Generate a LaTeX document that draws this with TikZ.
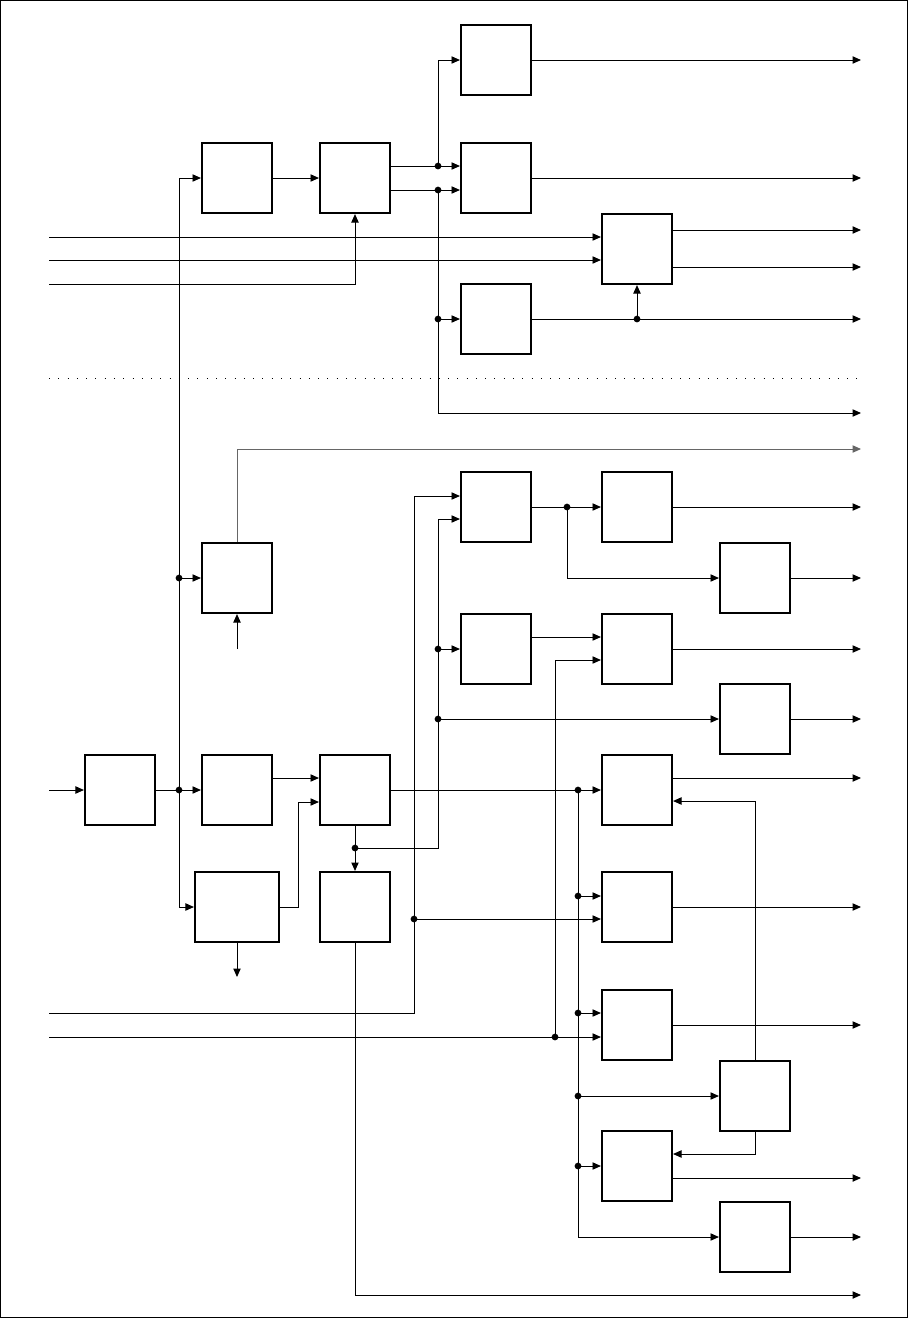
\documentclass[tikz,border=0pt]{standalone}
\usetikzlibrary{arrows.meta}

\begin{document}
\begin{tikzpicture}[x=0.025cm, y=-0.025cm, line width=0.7pt,
    blk/.style={rectangle, draw, line width=1.5pt, minimum width=1.75cm,
                minimum height=1.75cm, inner sep=0pt},
    wideblk/.style={blk, minimum width=2.1cm},
    jn/.style={circle, fill, inner sep=0pt, minimum size=4.8pt},
    >={Triangle[length=6pt,width=5.2pt]}
  ]
    \useasboundingbox (0,0) rectangle (908,1318);
    \draw[line width=0.8pt] (0.5,0.5) rectangle (907.5,1317.5);

    % Blocks, upper part
    \node[blk] (a1) at (237,178) {};
    \node[blk] (a2) at (355,178) {};
    \node[blk] (b1) at (496,60)  {};
    \node[blk] (b2) at (496,178) {};
    \node[blk] (c1) at (637,249) {};
    \node[blk] (b3) at (496,319) {};

    % Blocks, lower part
    \node[blk] (d1) at (496,507)  {};
    \node[blk] (d2) at (637,507)  {};
    \node[blk] (d3) at (755,578)  {};
    \node[blk] (e1) at (237,578)  {};
    \node[blk] (f1) at (496,649)  {};
    \node[blk] (f2) at (637,649)  {};
    \node[blk] (g1) at (755,719)  {};
    \node[blk] (h0) at (120,790)  {};
    \node[blk] (h1) at (237,790)  {};
    \node[blk] (h2) at (355,790)  {};
    \node[blk] (h3) at (637,790)  {};
    \node[wideblk] (i1) at (237,907) {};
    \node[blk] (i2) at (355,907)  {};
    \node[blk] (i3) at (637,907)  {};
    \node[blk] (j1) at (637,1025) {};
    \node[blk] (j2) at (755,1096) {};
    \node[blk] (k1) at (637,1166) {};
    \node[blk] (k2) at (755,1237) {};

    % Junction dots
    \node[jn] (tA) at (438,166)  {};
    \node[jn] (tB) at (438,190)  {};
    \node[jn] (tC) at (438,319)  {};
    \node[jn] (tD) at (637,319)  {};
    \node[jn] (tE) at (179,578)  {};
    \node[jn] (tH) at (179,790)  {};
    \node[jn] (tF) at (438,649)  {};
    \node[jn] (tG) at (438,719)  {};
    \node[jn] (tI) at (355,848)  {};
    \node[jn] (tK) at (567,507)  {};
    \node[jn] (tL) at (578,790)  {};
    \node[jn] (tM) at (414,919)  {};
    \node[jn] (tN) at (578,896)  {};
    \node[jn] (tO) at (578,1013) {};
    \node[jn] (tP) at (555,1037) {};
    \node[jn] (tQ) at (578,1096) {};
    \node[jn] (tR) at (578,1166) {};

    % Free ends and bends
    \coordinate (rx)    at (861,0);
    \coordinate (in1)   at (49,237);
    \coordinate (in2)   at (49,260);
    \coordinate (in3)   at (49,284);
    \coordinate (in4)   at (49,790);
    \coordinate (in5)   at (49,1013);
    \coordinate (in6)   at (49,1037);
    \coordinate (in7)   at (237,649);
    \coordinate (out1)  at (861,413);
    \coordinate (out2)  at (861,449);
    \coordinate (out3)  at (237,977);
    \coordinate (out4)  at (861,1295);
    \coordinate (bendD) at (414,496);
    \coordinate (bendE) at (438,519);
    \coordinate (bendH) at (298,802);
    \coordinate (sepL)  at (49,378);
    \coordinate (sepR)  at (857,378);

    % Upper signal paths
    \draw[->] (tH.center) |- (a1.west);
    \draw[->] (tH.center) |- (i1.west);
    \draw[->] (a1.east) -- (a2.west);
    \draw[->] (in3) -| (a2.south);
    \draw (a2.east |- tA) -- (tA.center);
    \draw (a2.east |- tB) -- (tB.center);
    \draw[->] (tA.center) |- (b1.west);
    \draw[->] (tA.center) -- (tA -| b2.west);
    \draw[->] (tB.center) -- (tB -| b2.west);
    \draw[->] (tB.center) |- (out1);
    \draw[->] (tC.center) -- (b3.west);
    \draw[->] (in1) -- (in1 -| c1.west);
    \draw[->] (in2) -- (in2 -| c1.west);
    \draw[->] (tD.center) -- (c1.south);
    \draw[->] (b1.east) -- (b1.east -| rx);
    \draw[->] (b2.east) -- (b2.east -| rx);
    \draw[->] ([yshift=.475cm]c1.east) -- ([yshift=.475cm]c1.east -| rx);
    \draw[->] ([yshift=-.45cm]c1.east) -- ([yshift=-.45cm]c1.east -| rx);
    \draw[->] (b3.east) -- (b3.east -| rx);

    % Separator
    \draw[dash pattern=on 0.7pt off 5.9pt] (sepL) -- (sepR);

    % Lower signal paths
    \draw[->, black!60] (e1.north) |- (out2);
    \draw[->] (in7) -- (e1.south);
    \draw[->] (tE.center) -- (e1.west);
    \draw[->] (in5) -| (bendD) -- (bendD -| d1.west);
    \draw[->] (tM.center) -- (tM -| i3.west);
    \draw[->] (tI.center) -| (bendE) -- (bendE -| d1.west);
    \draw[->] (tF.center) -- (f1.west);
    \draw[->] (tG.center) -- (g1.west);
    \draw[->] (h2.south) -- (i2.north);
    \draw[->] (d1.east) -- (d2.west);
    \draw[->] (tK.center) |- (d3.west);
    \draw[->] (d2.east) -- (d2.east -| rx);
    \draw[->] (d3.east) -- (d3.east -| rx);
    \draw[->] ([yshift=.3cm]f1.east) -- ([yshift=.3cm]f2.west);
    \draw[->] (tP.center) |- ([yshift=-.275cm]f2.west);
    \draw[->] (in6) -- (in6 -| j1.west);
    \draw[->] (f2.east) -- (f2.east -| rx);
    \draw[->] (g1.east) -- (g1.east -| rx);
    \draw[->] (in4) -- (h0.west);
    \draw[->] (h0.east) -- (h1.west);
    \draw[->] ([yshift=.3cm]h1.east) -- ([yshift=.3cm]h2.west);
    \draw[->] (i1.east) -| (bendH) -- (bendH -| h2.west);
    \draw[->] (i1.south) -- (out3);
    \draw[->] (h2.east) -- (h3.west);
    \draw[->] (tL.center) |- (k2.west);
    \draw[->] (tN.center) -- (tN -| i3.west);
    \draw[->] (tO.center) -- (tO -| j1.west);
    \draw[->] (tQ.center) -- (j2.west);
    \draw[->] (tR.center) -- (k1.west);
    \draw[->] ([yshift=.3cm]h3.east) -- ([yshift=.3cm]h3.east -| rx);
    \draw[->] (j2.north) |- ([yshift=-.275cm]h3.east);
    \draw[->] (j2.south) |- ([yshift=.3cm]k1.east);
    \draw[->] (i3.east) -- (i3.east -| rx);
    \draw[->] (j1.east) -- (j1.east -| rx);
    \draw[->] ([yshift=-.3cm]k1.east) -- ([yshift=-.3cm]k1.east -| rx);
    \draw[->] (k2.east) -- (k2.east -| rx);
    \draw[->] (i2.south) |- (out4);
\end{tikzpicture}
\end{document}
